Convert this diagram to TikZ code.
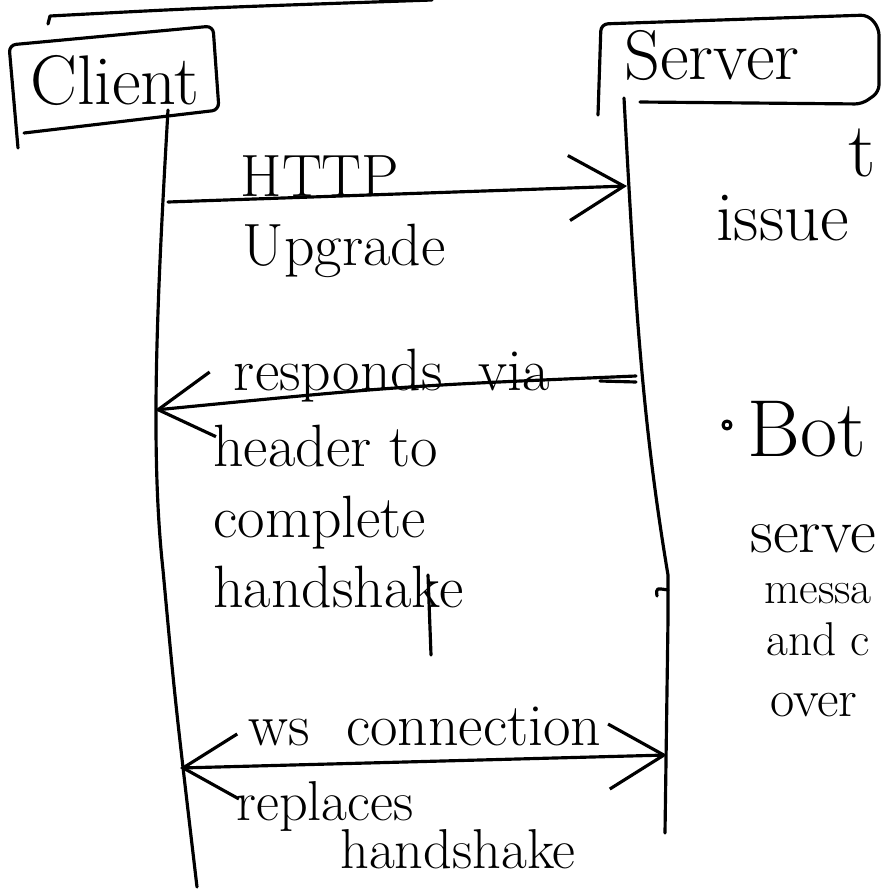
\documentclass[tikz,border=0pt]{standalone}
\usetikzlibrary{arrows.meta}
\tikzset{
  ink/.style={line width=1.8pt, line cap=round, line join=round},
  hand/.style={font=\fontsize{34}{40}\selectfont, inner sep=0pt, anchor=base},
  side/.style={font=\fontsize{30}{36}\selectfont, inner sep=0pt, anchor=base west},
  big/.style={font=\fontsize{40}{46}\selectfont, inner sep=0pt},
  msg/.style={ink, -{Straight Barb[length=1.1cm, width=1.3cm]}},
}
\begin{document}
\begin{tikzpicture}[x=0.02cm, y=-0.02cm]
    \useasboundingbox (0,0) rectangle (881,890);
    \clip (0,0) rectangle (881,890);
    % heads
    \node[big] (client) at (115,80) {Client};
    \node[big] (server) at (712,55) {Server};
    \draw[ink] (48,24) -- (50,16) .. controls (200,8) .. (432,0);
    \draw[ink, rounded corners=4pt] (18,148) -- (9,45) -- (213,26) -- (219,110) -- (24,133);
    \draw[ink, rounded corners=4pt] (598,115) -- (601,24) -- (868,15) -- (879,28)
        -- (879,92) -- (862,104) -- (640,102);
    % lifelines
    \coordinate (cTop) at (168,110);
    \coordinate (sTop) at (624,98);
    \coordinate (cEnd) at (197,887);
    \coordinate (sEnd) at (665,833);
    \draw[ink] (cTop) .. controls (157,300) and (150,450) .. (163,570)
        .. controls (175,700) .. (cEnd);
    \draw[ink] (sTop) .. controls (635,300) and (642,420) .. (668,575) -- (668,620) -- (sEnd);
    \draw[ink] (657,596) .. controls (656,588) .. (668,590);
    % messages
    \coordinate (c1) at (168,202);
    \coordinate (s1) at (627,186);
    \coordinate (s2) at (636,376);
    \coordinate (c2) at (155,410);
    \coordinate (c3) at (180,768);
    \coordinate (s3) at (667,755);
    \draw[msg] (c1) -- (s1);
    \node[hand] (http) at (320,196) {HTTP};
    \node[hand] (upgrade) at (344,265) {Upgrade};
    \draw[msg] (s2) .. controls (400,386) .. (c2);
    \draw[ink] (600,381) -- (636,382);
    \node[hand] (responds) at (392,390) {responds \ via};
    \node[hand, anchor=north west, align=left] (header) at (213,425)
        {header to\\complete\\handshake};
    \draw[ink] (428,575) -- (431,655);
    \draw[ink, {Straight Barb[length=1.1cm, width=1.3cm]}-{Straight Barb[length=1.1cm, width=1.3cm]}] (c3) -- (s3);
    \node[hand] (ws) at (425,745) {ws \ connection};
    \node[hand, font=\fontsize{32}{36}\selectfont] (replaces) at (325,820) {replaces};
    \node[hand, font=\fontsize{32}{36}\selectfont] (hshake) at (458,868) {handshake};
    % side notes
    \node[side, font=\fontsize{44}{50}\selectfont] (t) at (848,176) {t};
    \node[side, font=\fontsize{40}{46}\selectfont] (issues) at (716,240) {issue};
    \draw[ink] (727,425) circle (4);
    \node[side, font=\fontsize{46}{52}\selectfont] (both) at (747,456) {Bot};
    \node[side, font=\fontsize{36}{42}\selectfont] (serve) at (750,552) {serve};
    \node[side, font=\fontsize{26}{30}\selectfont] (messa) at (764,603) {messa};
    \node[side, font=\fontsize{27}{30}\selectfont] (andc) at (766,655) {and c};
    \node[side] (over) at (770,716) {over};
\end{tikzpicture}
\end{document}
